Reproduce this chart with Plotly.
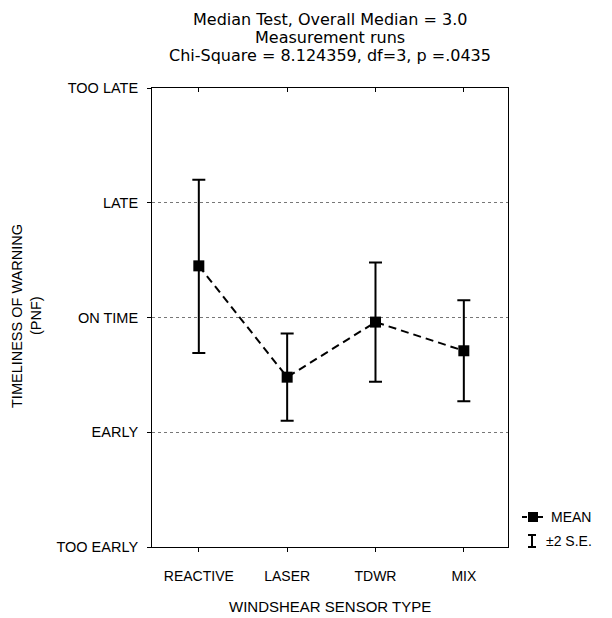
import plotly.graph_objects as go

categories = ["REACTIVE", "LASER", "TDWR", "MIX"]
means = [3.45, 2.48, 2.96, 2.71]
upper = [4.20, 2.86, 3.48, 3.15]
lower = [2.69, 2.10, 2.44, 2.27]
y_tick_vals = [1, 2, 3, 4, 5]
y_tick_text = ["TOO EARLY", "EARLY", "ON TIME", "LATE", "TOO LATE"]
title_lines = ["Median Test, Overall Median = 3.0", "Measurement runs",
               "Chi-Square = 8.124359, df=3, p =.0435"]

FONT = "Liberation Sans"
TFONT = "DejaVu Sans"
x_pos = list(range(1, len(categories) + 1))
err_plus = [u - m for u, m in zip(upper, means)]
err_minus = [m - l for m, l in zip(means, lower)]

fig = go.Figure()
fig.add_trace(go.Scatter(
    x=x_pos, y=means, mode="lines+markers",
    line=dict(color="black", width=2, dash="8px,5px"),
    marker=dict(symbol="square", size=11, color="black"),
    error_y=dict(type="data", symmetric=False, array=err_plus, arrayminus=err_minus,
                 color="black", thickness=2, width=6.5),
    showlegend=False,
))
# invisible trace to carry the top tick axis
fig.add_trace(go.Scatter(x=x_pos, y=means, xaxis="x2", mode="markers",
                         marker=dict(opacity=0), showlegend=False, hoverinfo="skip"))

L, R, T, B = 152, 104, 88, 71
W, H = 612, 618
pw, ph = W - L - R, H - T - B

def px(x):
    return (x - L) / pw

def py(y):
    return (H - B - y) / ph

annotations = []
for yy, txt in zip([19, 37.5, 56], title_lines):
    annotations.append(dict(x=0.5, y=py(yy), xref="paper", yref="paper", text=txt,
                            showarrow=False, font=dict(family=TFONT, size=16, color="black"),
                            xanchor="center", yanchor="middle"))
annotations.append(dict(x=0.5, y=py(606), xref="paper", yref="paper", text="WINDSHEAR SENSOR TYPE",
                        showarrow=False, font=dict(family=FONT, size=15, color="black"),
                        xanchor="center", yanchor="middle"))
annotations.append(dict(x=px(17), y=py(316), xref="paper", yref="paper", text="TIMELINESS OF WARNING",
                        showarrow=False, textangle=-90, font=dict(family=FONT, size=14.5, color="black"),
                        xanchor="center", yanchor="middle"))
annotations.append(dict(x=px(36), y=py(316), xref="paper", yref="paper", text="(PNF)",
                        showarrow=False, textangle=-90, font=dict(family=FONT, size=14.5, color="black"),
                        xanchor="center", yanchor="middle"))
annotations.append(dict(x=px(549), y=py(517), xref="paper", yref="paper", text="MEAN",
                        showarrow=False, font=dict(family=FONT, size=14, color="black"),
                        xanchor="left", yanchor="middle"))
annotations.append(dict(x=px(544), y=py(541), xref="paper", yref="paper", text="±2 S.E.",
                        showarrow=False, font=dict(family=FONT, size=14, color="black"),
                        xanchor="left", yanchor="middle"))

shapes = [
    dict(type="line", xref="paper", yref="paper", x0=px(522), x1=px(545), y0=py(517), y1=py(517),
         line=dict(color="black", width=2, dash="5px,3px")),
    dict(type="rect", xref="paper", yref="paper", x0=px(528), x1=px(538), y0=py(522), y1=py(512),
         fillcolor="black", line=dict(color="black", width=0)),
    dict(type="line", xref="paper", yref="paper", x0=px(532), x1=px(532), y0=py(535), y1=py(547),
         line=dict(color="black", width=2)),
    dict(type="line", xref="paper", yref="paper", x0=px(528), x1=px(536), y0=py(535), y1=py(535),
         line=dict(color="black", width=2)),
    dict(type="line", xref="paper", yref="paper", x0=px(528), x1=px(536), y0=py(547), y1=py(547),
         line=dict(color="black", width=2)),
]

fig.update_layout(
    width=W, height=H,
    margin=dict(l=L, r=R, t=T, b=B),
    paper_bgcolor="white", plot_bgcolor="white",
    font=dict(family=FONT, size=14, color="black"),
    annotations=annotations, shapes=shapes,
    xaxis=dict(range=[0.47, 4.5], tickmode="array", tickvals=x_pos, ticktext=categories,
               showline=True, linecolor="black", linewidth=1, mirror=True,
               ticks="outside", ticklen=4, tickcolor="black", showgrid=False, zeroline=False,
               ticklabelstandoff=12, tickfont=dict(family=FONT, size=14)),
    xaxis2=dict(range=[0.47, 4.5], overlaying="x", side="top", tickmode="array", tickvals=x_pos,
                showticklabels=False, ticks="inside", ticklen=4, tickcolor="black",
                showgrid=False, zeroline=False, showline=False),
    yaxis=dict(range=[1, 5], tickmode="array", tickvals=y_tick_vals, ticktext=y_tick_text,
               showline=True, linecolor="black", linewidth=1, mirror=True,
               ticks="outside", ticklen=4, tickcolor="black", zeroline=False,
               showgrid=True, gridcolor="#777", gridwidth=1, griddash="dot",
               ticklabelstandoff=6, tickfont=dict(family=FONT, size=14.5)),
)

fig.write_html("out.html")
